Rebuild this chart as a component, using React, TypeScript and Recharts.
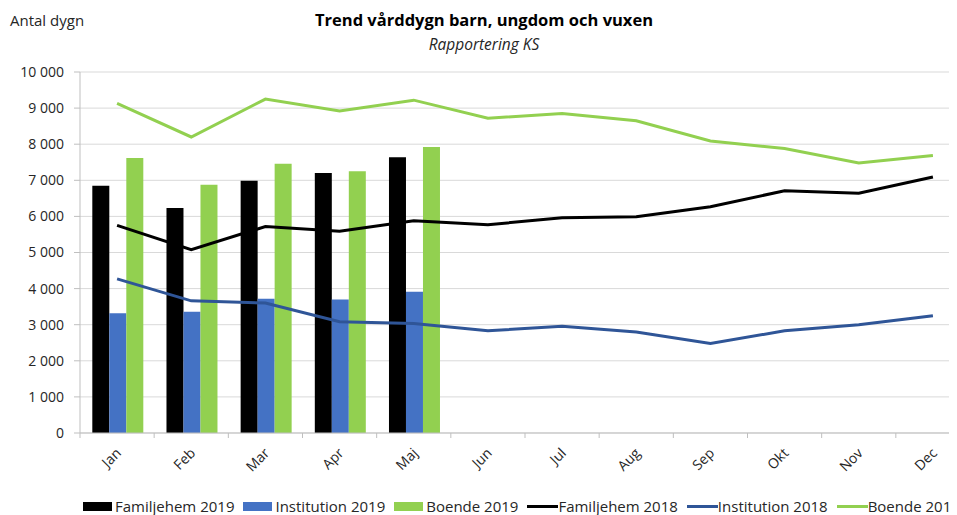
import React from 'react';
import { ComposedChart, Bar, Line, XAxis, YAxis, CartesianGrid } from 'recharts';

const months = ['Jan', 'Feb', 'Mar', 'Apr', 'Maj', 'Jun', 'Jul', 'Aug', 'Sep', 'Okt', 'Nov', 'Dec'];
const familjehem2019 = [6850, 6230, 6990, 7200, 7640];
const institution2019 = [3320, 3360, 3720, 3700, 3910];
const boende2019 = [7620, 6880, 7460, 7250, 7920];
const familjehem2018 = [5750, 5080, 5720, 5590, 5880, 5770, 5960, 5990, 6270, 6710, 6640, 7090];
const institution2018 = [4270, 3660, 3600, 3080, 3030, 2830, 2960, 2800, 2480, 2830, 3000, 3250];
const boende2018 = [9130, 8200, 9250, 8920, 9220, 8720, 8850, 8650, 8090, 7880, 7480, 7690];
const yTicks = [0, 1000, 2000, 3000, 4000, 5000, 6000, 7000, 8000, 9000, 10000];

const data = months.map((m, i) => ({
  month: m,
  f19: i < familjehem2019.length ? familjehem2019[i] : null,
  i19: i < institution2019.length ? institution2019[i] : null,
  b19: i < boende2019.length ? boende2019[i] : null,
  f18: familjehem2018[i],
  i18: institution2018[i],
  b18: boende2018[i],
}));

const CHART_W = 990;
const CHART_H = 515;
const X_H = 30;
const MARGIN = { top: 72, right: 20, bottom: 82 - X_H, left: 0 };
const Y_W = 80;
const PLOT_W = CHART_W - MARGIN.right - MARGIN.left - Y_W;
const BAND = PLOT_W / months.length;
const FONT = '"Open Sans", sans-serif';
const AXIS_COLOR = '#BFBFBF';
const TEXT_COLOR = '#262626';

const series = [
  { key: 'f19', name: 'Familjehem 2019', color: '#000000', kind: 'bar' },
  { key: 'i19', name: 'Institution 2019', color: '#4472C4', kind: 'bar' },
  { key: 'b19', name: 'Boende 2019', color: '#92D050', kind: 'bar' },
  { key: 'f18', name: 'Familjehem 2018', color: '#000000', kind: 'line' },
  { key: 'i18', name: 'Institution 2018', color: '#2F5597', kind: 'line' },
  { key: 'b18', name: 'Boende 2018', color: '#92D050', kind: 'line' },
];

const fmt = (v: number) => {
  const s = String(v);
  return s.replace(/\B(?=(\d{3})+(?!\d))/g, ' ');
};

const XTick = (props: any) => {
  const { x, y, payload, index } = props;
  const tx = x + 5;
  const ty = y + 21;
  return (
    <g>
      <line x1={x - BAND / 2} y1={y} x2={x - BAND / 2} y2={y + 5} stroke={AXIS_COLOR} />
      {index === months.length - 1 && (
        <line x1={x + BAND / 2} y1={y} x2={x + BAND / 2} y2={y + 5} stroke={AXIS_COLOR} />
      )}
      <text
        x={tx}
        y={ty}
        textAnchor="end"
        fontSize={14}
        fontFamily={FONT}
        fill={TEXT_COLOR}
        transform={`rotate(-45 ${tx} ${ty})`}
      >
        {payload.value}
      </text>
    </g>
  );
};

export default function App() {
  return (
    <div
      style={{
        position: 'relative',
        width: 957,
        height: 515,
        marginLeft: -8,
        marginTop: -8,
        overflow: 'hidden',
        background: '#fff',
        fontFamily: FONT,
      }}
    >
      <ComposedChart
        width={CHART_W}
        height={CHART_H}
        data={data}
        margin={MARGIN}
        barCategoryGap="16.6%"
        barGap={0}
      >
        <CartesianGrid vertical={false} stroke="#D9D9D9" strokeWidth={1} />
        <XAxis
          dataKey="month"
          height={X_H}
          axisLine={{ stroke: AXIS_COLOR }}
          tickLine={false}
          tickSize={0}
          tickMargin={0}
          interval={0}
          tick={<XTick />}
        />
        <YAxis
          width={Y_W}
          domain={[0, 10000]}
          ticks={yTicks}
          interval={0}
          tickFormatter={fmt}
          axisLine={{ stroke: AXIS_COLOR }}
          tickLine={{ stroke: AXIS_COLOR }}
          tickSize={6}
          tickMargin={10}
          tick={{ fontSize: 14, fontFamily: FONT, fill: TEXT_COLOR }}
        />
        {series
          .filter((s) => s.kind === 'bar')
          .map((s) => (
            <Bar key={s.key} dataKey={s.key} name={s.name} fill={s.color} isAnimationActive={false} />
          ))}
        {series
          .filter((s) => s.kind === 'line')
          .map((s) => (
            <Line
              key={s.key}
              type="linear"
              dataKey={s.key}
              name={s.name}
              stroke={s.color}
              strokeWidth={3}
              dot={false}
              activeDot={false}
              isAnimationActive={false}
            />
          ))}
      </ComposedChart>

      <div
        style={{
          position: 'absolute',
          left: 10,
          top: 10,
          lineHeight: '20px',
          fontSize: 15,
          color: TEXT_COLOR,
        }}
      >
        Antal dygn
      </div>
      <div
        style={{
          position: 'absolute',
          left: 0,
          width: 968,
          top: 10,
          lineHeight: '20px',
          fontSize: 16.5,
          fontWeight: 'bold',
          textAlign: 'center',
          color: '#000',
        }}
      >
        Trend vårddygn barn, ungdom och vuxen
      </div>
      <div
        style={{
          position: 'absolute',
          left: 0,
          width: 968,
          top: 34,
          lineHeight: '20px',
          fontSize: 15.5,
          fontStyle: 'italic',
          textAlign: 'center',
          color: TEXT_COLOR,
        }}
      >
        Rapportering KS
      </div>

      <div
        style={{
          position: 'absolute',
          left: 83,
          top: 496,
          width: 1000,
          display: 'flex',
          alignItems: 'center',
          whiteSpace: 'nowrap',
          fontSize: 15,
          lineHeight: '20px',
          color: TEXT_COLOR,
        }}
      >
        {series.map((s) => (
          <div key={s.key} style={{ display: 'flex', alignItems: 'center', marginRight: 9, flexShrink: 0 }}>
            {s.kind === 'bar' ? (
              <span style={{ display: 'inline-block', width: 29, height: 9, background: s.color, marginRight: 3, flexShrink: 0 }} />
            ) : (
              <span style={{ display: 'inline-block', width: 31, height: 3, background: s.color, marginRight: 0, flexShrink: 0 }} />
            )}
            <span style={{ flexShrink: 0 }}>{s.name}</span>
          </div>
        ))}
      </div>
    </div>
  );
}
